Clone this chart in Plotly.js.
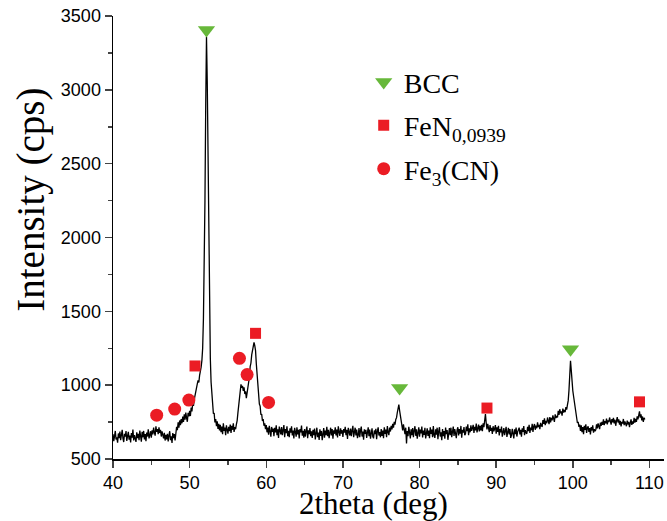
<!DOCTYPE html>
<html>
<head>
<meta charset="utf-8">
<script src="https://cdn.plot.ly/plotly-3.0.1.min.js"></script>
<style>html,body{margin:0;padding:0;background:#fff;}#chart{width:667px;height:521px;}</style>
</head>
<body>
<div id="chart"></div>
<script>
// Scan grid: 2theta from 40.0 deg in 0.1 deg steps
const scanStart = 40.0;
const scanStep = 0.1;
// Intensity (cps), 10 values per degree (row = one degree)
const intensity = [
668,621,655,690,632,647,610,673,641,686,
627,662,698,640,615,671,652,689,623,657,
684,631,659,612,676,645,699,626,662,638,
616,680,642,671,628,693,655,618,684,647,
690,633,668,621,679,652,701,639,662,688,
645,695,667,712,680,658,721,684,703,668,
715,676,698,652,687,661,640,678,625,664,
632,671,619,660,688,627,654,609,675,641,
668,625,683,718,695,748,712,761,729,770,
742,788,751,803,766,815,778,752,812,789,
826,791,848,822,875,860,902,935,951,992,
1008,1032,1018,1066,1090,1122,1168,1250,1450,1800,
2250,2900,3360,3050,2550,2150,1450,1180,1020,920,
872,806,812,748,771,722,755,703,738,694,
731,682,719,668,741,690,712,661,728,695,
672,718,689,734,677,725,698,741,684,716,
702,735,760,812,875,935,970,1005,982,995,
962,985,940,958,912,948,970,1015,1055,1125,
1150,1205,1230,1270,1290,1268,1235,1145,1070,985,
945,872,858,800,805,758,770,725,741,702,
730,681,712,664,725,690,651,717,684,706,
655,712,680,728,662,701,643,719,686,667,
716,661,695,730,648,702,676,721,655,690,
648,707,679,722,660,693,639,711,684,651,
715,667,698,640,703,681,726,658,691,645,
702,652,689,719,641,695,668,710,654,687,
642,698,661,706,633,684,712,648,679,629,
701,656,690,628,681,709,645,693,662,718,
655,697,641,688,712,659,702,637,694,671,
714,660,699,646,721,684,657,708,672,695,
650,703,679,718,661,697,636,711,682,659,
706,655,693,725,648,689,712,660,699,641,
662,709,648,694,719,652,686,631,701,670,
697,642,686,715,655,699,637,681,708,651,
640,693,668,704,634,688,715,659,682,647,
703,657,692,641,714,670,699,648,723,681,
662,712,686,725,700,738,712,751,733,768,
780,815,850,868,828,785,745,720,694,735,
706,668,712,605,690,655,718,672,640,701,
662,709,648,693,722,657,701,638,689,714,
651,700,673,719,646,693,664,711,640,697,
708,657,692,641,714,670,699,648,723,660,
643,701,665,712,634,689,715,652,680,627,
702,655,689,637,713,668,696,630,684,709,
661,712,648,695,719,656,703,672,641,698,
715,660,702,671,724,645,697,679,716,662,
671,720,688,735,662,707,681,728,690,709,
731,677,718,694,740,680,712,733,686,724,
694,732,688,741,716,752,805,744,701,738,
718,682,729,691,711,670,722,688,706,730,
672,714,683,725,660,703,681,719,651,697,
709,662,695,718,650,689,711,667,702,643,
661,705,676,639,701,668,713,652,684,706,
712,667,698,651,707,684,723,662,695,678,
671,718,689,731,676,712,695,738,683,720,
737,698,726,708,749,716,731,702,745,724,
722,763,738,775,729,758,742,781,752,736,
784,748,779,762,795,770,751,803,778,792,
781,826,798,837,809,822,794,841,815,832,
818,852,835,866,895,965,1070,1165,1100,1012,
962,925,885,858,805,782,744,752,718,733,
690,728,681,716,668,724,697,735,676,711,
722,684,709,667,716,693,728,679,702,688,
698,734,707,741,719,702,746,725,752,731,
768,729,757,741,773,735,762,750,781,744,
733,770,748,779,741,766,725,758,784,747,
768,732,759,721,752,740,771,729,755,738,
722,760,734,751,716,745,768,731,754,739,
778,746,771,752,789,768,795,822,780,803,
761,788,752,779,768
];
const twoTheta = intensity.map((_, i) => +(scanStart + i * scanStep).toFixed(1));

// Phase markers
const bccX = [52.2, 77.4, 99.7];
const bccY = [3405, 980, 1243];
const fenX = [50.7, 58.6, 88.8, 108.7];
const fenY = [1130, 1351, 845, 887];
const fe3cnX = [45.7, 48.05, 49.9, 56.5, 57.5, 60.3];
const fe3cnY = [797, 838, 899, 1182, 1072, 883];

const xTitle = '2theta (deg)';
const yTitle = 'Intensity (cps)';
const names = ['BCC', 'FeN<sub>0,0939</sub>', 'Fe<sub>3</sub>(CN)'];

const green = '#67b83a';
const red = '#eb1c24';

const traces = [
  {x: twoTheta, y: intensity, mode: 'lines', line: {color: '#000', width: 1.3}, showlegend: false, hoverinfo: 'skip'},
  {x: bccX, y: bccY, mode: 'markers', name: names[0], legendgroup: 'a', marker: {symbol: 'triangle-down', size: 15, color: green}},
  {x: fenX, y: fenY, mode: 'markers', name: names[1], legendgroup: 'b', marker: {symbol: 'square', size: 11, color: red}},
  {x: fe3cnX, y: fe3cnY, mode: 'markers', name: names[2], legendgroup: 'c', marker: {symbol: 'circle', size: 13, color: red}}
];

const tickFont = {family: 'Liberation Sans, Arial, sans-serif', size: 18, color: '#000'};
const serif = 'Liberation Serif, Times New Roman, serif';

const layout = {
  width: 667, height: 521,
  margin: {l: 113, r: 3, t: 16, b: 62},
  paper_bgcolor: '#fff', plot_bgcolor: '#fff',
  showlegend: true,
  legend: {x: 0.455, y: 0.907, xanchor: 'left', yanchor: 'top', bgcolor: 'rgba(0,0,0,0)',
           traceorder: 'grouped', tracegroupgap: 4,
           font: {family: serif, size: 28, color: '#000'}, itemsizing: 'trace'},
  xaxis: {
    range: [40, 111.9], dtick: 10, tick0: 40, ticks: 'outside', ticklen: 7, tickwidth: 1.5,
    minor: {dtick: 5, ticks: 'outside', ticklen: 4, tickwidth: 1.5},
    showline: true, linecolor: '#000', linewidth: 1.5, showgrid: false, zeroline: false,
    tickfont: tickFont
  },
  yaxis: {
    range: [500, 3500], dtick: 500, tick0: 500, ticks: 'outside', ticklen: 7, tickwidth: 1.5,
    minor: {dtick: 250, ticks: 'outside', ticklen: 4, tickwidth: 1.5},
    showline: true, linecolor: '#000', linewidth: 1.5, showgrid: false, zeroline: false,
    tickfont: tickFont
  },
  annotations: [
    {text: xTitle, xref: 'paper', yref: 'paper', x: 0.472, y: -0.1, xanchor: 'center', yanchor: 'middle',
     showarrow: false, font: {family: serif, size: 31, color: '#000'}},
    {text: yTitle, xref: 'paper', yref: 'paper', x: -0.149, y: 0.585, xanchor: 'center', yanchor: 'middle',
     textangle: -90, showarrow: false, font: {family: serif, size: 39, color: '#000'}}
  ]
};

Plotly.newPlot('chart', traces, layout, {displayModeBar: false, staticPlot: true});
</script>
</body>
</html>
